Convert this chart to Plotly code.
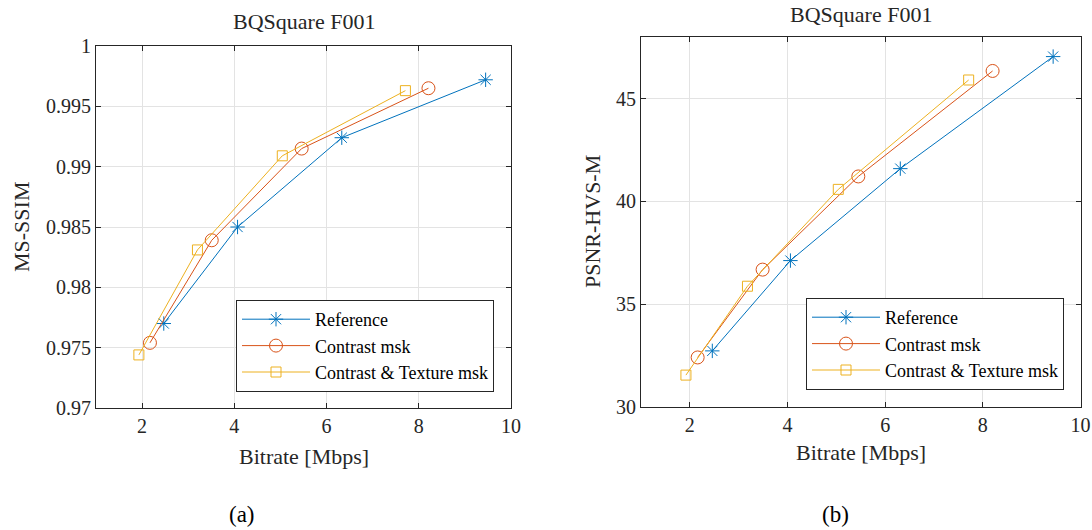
import plotly.graph_objects as go

W, H = 1092, 530

# ---------------- data ----------------
series_names = ["Reference", "Contrast msk", "Contrast & Texture msk"]

# (a) MS-SSIM
a_ref_x = [2.47, 4.07, 6.33, 9.45]
a_ref_y = [0.9770, 0.9850, 0.9924, 0.9972]
a_con_x = [2.17, 3.51, 5.46, 8.21]
a_con_y = [0.9754, 0.9839, 0.9915, 0.9965]
a_tex_x = [1.93, 3.20, 5.04, 7.71]
a_tex_y = [0.9744, 0.9831, 0.9909, 0.9963]

# (b) PSNR-HVS-M
b_ref_x = [2.46, 4.06, 6.31, 9.44]
b_ref_y = [32.72, 37.12, 41.60, 47.06]
b_con_x = [2.16, 3.49, 5.45, 8.20]
b_con_y = [32.40, 36.68, 41.22, 46.36]
b_tex_x = [1.92, 3.18, 5.04, 7.71]
b_tex_y = [31.54, 35.87, 40.59, 45.92]

x_ticks = [2, 4, 6, 8, 10]
a_y_ticks = [0.97, 0.975, 0.98, 0.985, 0.99, 0.995, 1.0]
a_y_labels = ["0.97", "0.975", "0.98", "0.985", "0.99", "0.995", "1"]
b_y_ticks = [30, 35, 40, 45]
b_y_labels = ["30", "35", "40", "45"]

colors = ["#0072BD", "#D95319", "#EDB120"]
symbols = ["asterisk-open", "circle-open", "square-open"]
msizes = [12, 13, 10]

FONT = "'Liberation Serif', 'Times New Roman', Times, serif"
AX = "#262626"
GRID = "#e3e3e3"


def px(x):
    return x / W


def py(y):
    return 1 - y / H


fig = go.Figure()

a_sets = [(a_ref_x, a_ref_y), (a_con_x, a_con_y), (a_tex_x, a_tex_y)]
b_sets = [(b_ref_x, b_ref_y), (b_con_x, b_con_y), (b_tex_x, b_tex_y)]

for i, (xs, ys) in enumerate(a_sets):
    fig.add_trace(go.Scatter(
        x=xs, y=ys, mode="lines+markers", name=series_names[i],
        line=dict(color=colors[i], width=1),
        marker=dict(symbol=symbols[i], size=msizes[i], color=colors[i],
                    line=dict(color=colors[i], width=1)),
        xaxis="x", yaxis="y", legend="legend"))

for i, (xs, ys) in enumerate(b_sets):
    fig.add_trace(go.Scatter(
        x=xs, y=ys, mode="lines+markers", name=series_names[i],
        line=dict(color=colors[i], width=1),
        marker=dict(symbol=symbols[i], size=msizes[i], color=colors[i],
                    line=dict(color=colors[i], width=1)),
        xaxis="x2", yaxis="y2", legend="legend2"))

axis_common = dict(
    showline=True, linecolor=AX, linewidth=1, mirror="ticks",
    ticks="inside", ticklen=5, tickcolor=AX, tickwidth=1,
    showgrid=True, gridcolor=GRID, gridwidth=1, zeroline=False,
    automargin=False,
    tickfont=dict(family=FONT, size=20, color=AX),
)

legend_common = dict(
    font=dict(family=FONT, size=18, color="#000000"),
    bgcolor="white", bordercolor=AX, borderwidth=1,
    xanchor="right", yanchor="bottom", tracegroupgap=0,
    itemwidth=68,
)

fig.update_layout(
    template="none",
    width=W, height=H,
    margin=dict(l=0, r=0, t=0, b=0, autoexpand=False),
    paper_bgcolor="white", plot_bgcolor="white",
    font=dict(family=FONT),
    showlegend=True,
    xaxis=dict(domain=[px(96), px(511)], range=[1, 10], tickvals=x_ticks,
               anchor="y", **axis_common),
    yaxis=dict(domain=[py(408), py(46)], range=[0.97, 1.0],
               tickvals=a_y_ticks, ticktext=a_y_labels, anchor="x",
               **axis_common),
    xaxis2=dict(domain=[px(641), px(1080.5)], range=[1, 10], tickvals=x_ticks,
                anchor="y2", **axis_common),
    yaxis2=dict(domain=[py(406.7), py(37.3)], range=[30, 48],
                tickvals=b_y_ticks, ticktext=b_y_labels, anchor="x2",
                **axis_common),
    legend=dict(x=px(494), y=py(392), **legend_common),
    legend2=dict(x=px(1064), y=py(390), **legend_common),
)

ann = [
    dict(text="BQSquare F001", x=px(303.5), y=py(22), size=22),
    dict(text="BQSquare F001", x=px(860.5), y=py(15), size=22),
    dict(text="Bitrate [Mbps]", x=px(303.5), y=py(456), size=22),
    dict(text="Bitrate [Mbps]", x=px(860.5), y=py(452), size=22),
    dict(text="(a)", x=px(242), y=py(514), size=23),
    dict(text="(b)", x=px(836), y=py(514), size=23),
]
for a in ann:
    fig.add_annotation(text=a["text"], x=a["x"], y=a["y"], xref="paper",
                       yref="paper", showarrow=False, xanchor="center",
                       yanchor="middle",
                       font=dict(family=FONT, size=a["size"], color="#000000" if a["text"].startswith("(") else AX))

fig.add_annotation(text="MS-SSIM", x=px(21), y=py(227), xref="paper", yref="paper",
                   showarrow=False, textangle=-90, xanchor="center", yanchor="middle",
                   font=dict(family=FONT, size=22, color=AX))
fig.add_annotation(text="PSNR-HVS-M", x=px(592), y=py(222), xref="paper", yref="paper",
                   showarrow=False, textangle=-90, xanchor="center", yanchor="middle",
                   font=dict(family=FONT, size=22, color=AX))

fig.write_html("out.html",
               config={"displayModeBar": False},
               post_script="document.body.style.margin='0';document.body.style.overflow='hidden';")
